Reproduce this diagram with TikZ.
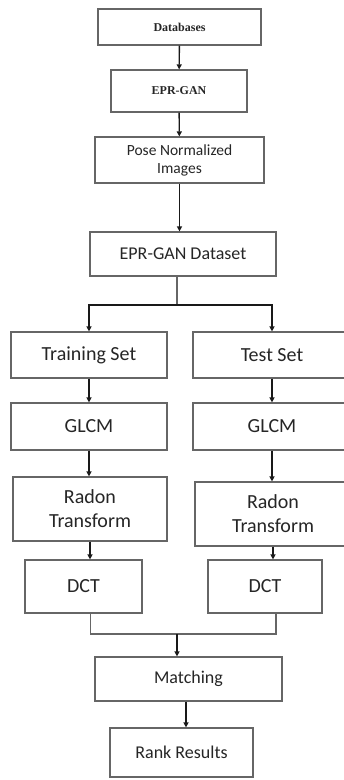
\documentclass[tikz,border=0pt]{standalone}
\usepackage{fontspec}
\setmainfont{Carlito}
\newfontfamily\timesfont{Liberation Serif}
\usetikzlibrary{arrows.meta,positioning,calc}

\begin{document}
\begin{tikzpicture}[x=1pt,y=-1pt,
 blk/.style={draw=gray!80!black,line width=1.2pt,fill=white,inner sep=1pt,align=center,text=black!85},
 big/.style={font=\fontsize{20}{24}\selectfont},
 mid/.style={font=\fontsize{18}{21}\selectfont},
 flow/.style={-{Triangle[length=5pt,width=5pt]},line width=1.4pt,black!90}]
\useasboundingbox (0,0) rectangle (344,780);
% top chain
\node[blk,minimum width=163,minimum height=36,font=\timesfont\bfseries\fontsize{12}{14}\selectfont] (db) at (179.5,27){Databases};
\node[blk,minimum width=136,minimum height=42,font=\timesfont\bfseries\fontsize{12}{14}\selectfont] (gan) at (179,91){EPR-GAN};
\node[blk,minimum width=169,minimum height=46,font=\fontsize{15.5}{18}\selectfont] (pose) at (179.5,160){Pose Normalized\\Images};
\node[blk,mid,minimum width=186,minimum height=44] (dset) at (183,254){EPR-GAN Dataset};
% two columns
\node[blk,big,minimum width=156,minimum height=46] (train) at (89,355){Training Set};
\node[blk,big,minimum width=158,minimum height=46] (test) at (272,355){Test Set};
\node[blk,big,minimum width=156,minimum height=47] (glcmL) at (89,426.5){GLCM};
\node[blk,big,minimum width=158,minimum height=47] (glcmR) at (272,426.5){GLCM};
\node[blk,big,minimum width=154,minimum height=64] (radonL) at (90,509){Radon\\Transform};
\node[blk,big,minimum width=156,minimum height=64] (radonR) at (273,514){Radon\\Transform};
\node[blk,big,minimum width=117,minimum height=53] (dctL) at (83.5,586.5){DCT};
\node[blk,big,minimum width=114,minimum height=53] (dctR) at (265,586.5){DCT};
% bottom
\node[blk,mid,minimum width=187,minimum height=44] (match) at (188.5,679){Matching};
\node[blk,mid,minimum width=143,minimum height=49] (rank) at (181.5,752.5){Rank Results};
\coordinate (split) at (177,305);
\coordinate (join) at (177,634);
% connectors
\draw[flow] (db) -- (gan);
\draw[flow] (gan) -- (pose);
\draw[flow] (pose.south) -- (pose.south |- dset.north);
\draw[line width=1.2pt,gray!80!black] (split |- dset.south) -- (split);
\draw[flow] (split) -| (train.north);
\draw[flow] (split) -| (test.north);
\foreach \a/\b in {train/glcmL,glcmL/radonL,radonL/dctL,test/glcmR,glcmR/radonR}{
 \draw[flow] (\a.south) -- (\a.south |- \b.north);}
\draw[flow] (radonR.south) -- (radonR.south |- dctR.north);
\draw[line width=1.2pt,gray!80!black] ($(dctL.south)+(7,0)$) |- (join) -| ($(dctR.south)+(11,0)$);
\draw[flow] (join) -- (join |- match.north);
\draw[flow] ($(match.south)+(-2.5,0)$) -- ($(match.south |- rank.north)+(-2.5,0)$);
\end{tikzpicture}
\end{document}
